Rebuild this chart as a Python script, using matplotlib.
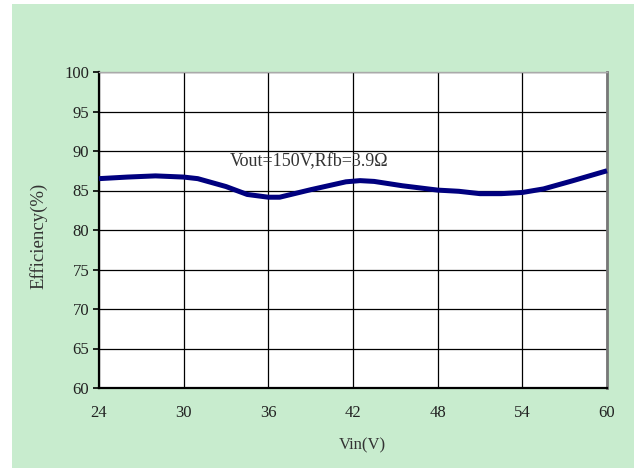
import matplotlib
matplotlib.use("Agg")
import matplotlib.pyplot as plt
from matplotlib.patches import Rectangle

# Data
vin = [24, 26, 28, 30, 31, 33, 34.5, 36, 36.8, 39, 41.5, 42.5, 43.5, 45.5, 48, 49.5, 51, 52.5, 54, 55.5, 57.5, 60]
eff = [86.5, 86.7, 86.85, 86.7, 86.5, 85.5, 84.5, 84.15, 84.15, 85.1, 86.1, 86.25, 86.15, 85.6, 85.05, 84.9, 84.6, 84.6, 84.75, 85.2, 86.2, 87.5]
xticks = [24, 30, 36, 42, 48, 54, 60]
yticks = [60, 65, 70, 75, 80, 85, 90, 95, 100]
annotation = "Vout=150V,Rfb=3.9Ω"

W, H = 634, 468
fig = plt.figure(figsize=(W / 100, H / 100), dpi=100)
fig.patch.set_facecolor("white")
fig.patches.append(Rectangle((12 / W, 0), 1 - 12 / W, 1 - 4 / H, transform=fig.transFigure,
                             facecolor="#c8ecce", edgecolor="none", zorder=-10))

ax = fig.add_axes([99 / W, 1 - 388 / H, 508 / W, 316 / H])
ax.set_facecolor("white")
ax.plot(vin, eff, color="#00007f", lw=3.6, solid_joinstyle="round", solid_capstyle="butt", zorder=3,
        clip_on=False)
ax.set_xlim(24, 60)
ax.set_ylim(60, 100)
ax.set_xticks(xticks)
ax.set_yticks(yticks)
ax.grid(True, color="black", lw=0.9)
ax.set_axisbelow(True)

font = "Liberation Serif"
ax.tick_params(axis="x", length=0, pad=12, labelsize=12, labelcolor="#222222")
ax.tick_params(axis="y", length=4, width=1.2, direction="out", pad=3, labelsize=12, labelcolor="#222222")
for lab in ax.get_xticklabels() + ax.get_yticklabels():
    lab.set_fontfamily(font)

for s in ["left", "bottom"]:
    ax.spines[s].set_color("black")
    ax.spines[s].set_linewidth(1.6)
ax.spines["right"].set_color("#777777")
ax.spines["right"].set_linewidth(2.0)
ax.spines["top"].set_color("#aaaaaa")
ax.spines["top"].set_linewidth(1.0)

ax.set_xlabel("Vin(V)", fontfamily=font, fontsize=12, color="#333333")
ax.xaxis.set_label_coords((362 - 99) / 508, -(437 - 388) / 316)
ax.set_ylabel("Efficiency(%)", fontfamily=font, fontsize=13.5, color="#333333")
ax.yaxis.set_label_coords(-(99 - 47) / 508, (388 - 236) / 316)

ax.text(33.3, 88.6, annotation, fontfamily=font, fontsize=13, color="#333333", va="center", ha="left")

fig.savefig("out.png", dpi=100)
